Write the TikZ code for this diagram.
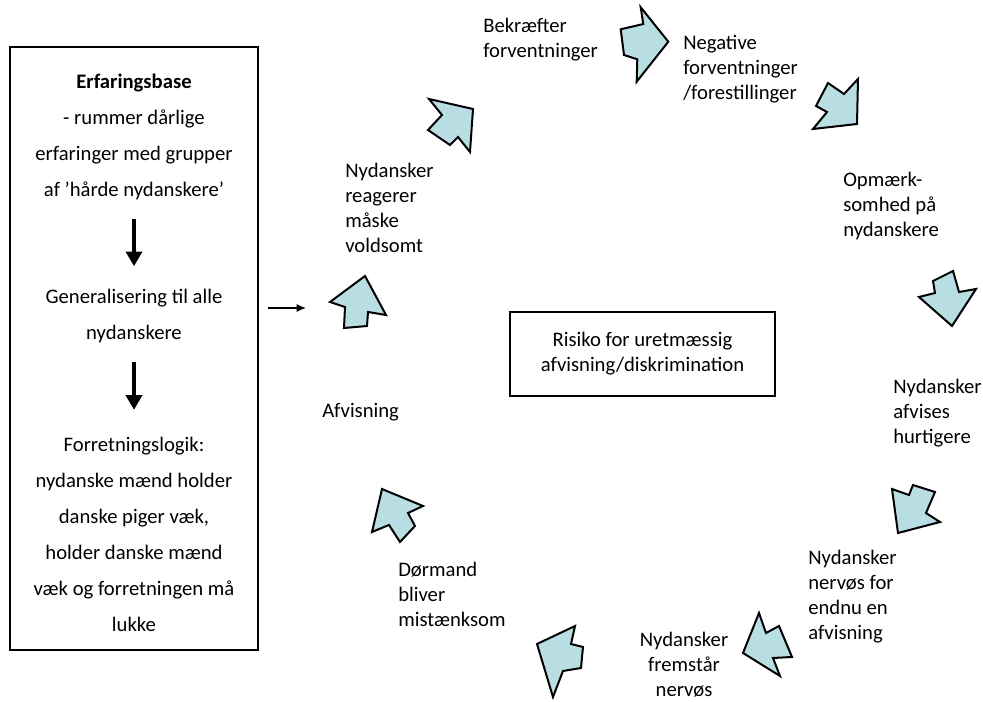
\documentclass[tikz,border=0pt]{standalone}
\usepackage{fontspec}
\setmainfont{Carlito}
\usetikzlibrary{arrows.meta}
\definecolor{arrowfill}{RGB}{184,222,227}
\begin{document}
\begin{tikzpicture}[x=0.75pt,y=-0.75pt,
  lbl/.style={inner sep=0pt, align=left, anchor=west, font=\fontsize{15.5}{18.75}\selectfont},
  boxtxt/.style={inner sep=0pt, align=center, font=\fontsize{15.5}{27}\selectfont},
  blockarrow/.style={fill=arrowfill, draw=black, line width=1.5pt, line join=miter},
  downarrow/.style={line width=2.6pt, -{Triangle[length=11pt,width=12pt]}, shorten <=14pt},
  framebox/.style={draw, line width=1.1pt, inner sep=0pt},
]
\useasboundingbox (0,0) rectangle (983,702);

% left box
\node[framebox, minimum width=186pt, minimum height=452pt] (base) at (134,348.5) {};
\node[boxtxt] (t1) at (134,137) {\textbf{Erfaringsbase}\\- rummer dårlige\\erfaringer med grupper\\af ’hårde nydanskere’};
\node[boxtxt] (t2) at (134,316) {Generalisering til alle\\nydanskere};
\node[boxtxt] (t3) at (134,534) {Forretningslogik:\\nydanske mænd holder\\danske piger væk,\\holder danske mænd\\væk og forretningen må\\lukke};
\draw[downarrow, shorten >=17pt] (t1) -- (t2);
\draw[downarrow, shorten >=20pt] (t2) -- (t3);

\coordinate (a0) at (268,308);
\coordinate (a1) at (306,308);
\draw[line width=1pt, -{Latex[length=7pt,width=6pt]}] (a0) -- (a1);

% centre box
\node[framebox, minimum width=199pt, minimum height=63pt, align=center, font=\fontsize{15.5}{18.75}\selectfont] (risk) at (642.5,354) {Risiko for uretmæssig\\afvisning/diskrimination};

% labels
\node[lbl] (bek) at (483,40) {Bekræfter\\forventninger};
\node[lbl] (neg) at (683,69.5) {Negative\\forventninger\\/forestillinger};
\node[lbl] (opm) at (843,206) {Opmærk-\\somhed på\\nydanskere};
\node[lbl] (ny1) at (893,413) {Nydansker\\afvises\\hurtigere};
\node[lbl] (ny2) at (808,596.5) {Nydansker\\nervøs for\\endnu en\\afvisning};
\node[lbl, align=center, anchor=center] (ny3) at (684,665) {Nydansker\\fremstår\\nervøs};
\node[lbl] (dor) at (398,594.5) {Dørmand\\bliver\\mistænksom};
\node[lbl] (afv) at (322,412) {Afvisning};
\node[lbl] (ny4) at (345,207.5) {Nydansker\\reagerer\\måske\\voldsomt};

% block arrows
\draw[blockarrow] (640.7,7.3) -- (643.3,24) -- (620.7,29.3) -- (624,55) -- (637.3,59.3) -- (636.7,81.7) -- (668.3,41.7) -- cycle;
\draw[blockarrow] (858,79) -- (857,124) -- (813,129) -- (827,112) -- (816,106) -- (828,83) -- (844,94) -- cycle;
\draw[blockarrow] (953,271) -- (959,292) -- (976,289) -- (952,326) -- (919,297) -- (935,293) -- (933,281) -- cycle;
\draw[blockarrow] (892,489) -- (909,495) -- (913,485) -- (935,492) -- (926,513) -- (940,522) -- (898,533) -- cycle;
\draw[blockarrow] (759,613) -- (766,633) -- (779,626) -- (792,657) -- (773,658) -- (780,676) -- (743,653) -- cycle;
\draw[blockarrow] (575,626) -- (571,644) -- (583,647) -- (581,668) -- (563,671) -- (553,697) -- (537,644) -- cycle;
\draw[blockarrow] (382,489) -- (423,506) -- (408,513) -- (415,526) -- (400,542) -- (389,525) -- (372,532) -- cycle;
\draw[blockarrow] (365,276) -- (386,315) -- (368,312) -- (367,326) -- (344,328) -- (345,307) -- (330,302) -- cycle;
\draw[blockarrow] (429,99) -- (473,109) -- (470,152) -- (458,137) -- (450,145) -- (428,130) -- (442,115) -- cycle;
\end{tikzpicture}
\end{document}
